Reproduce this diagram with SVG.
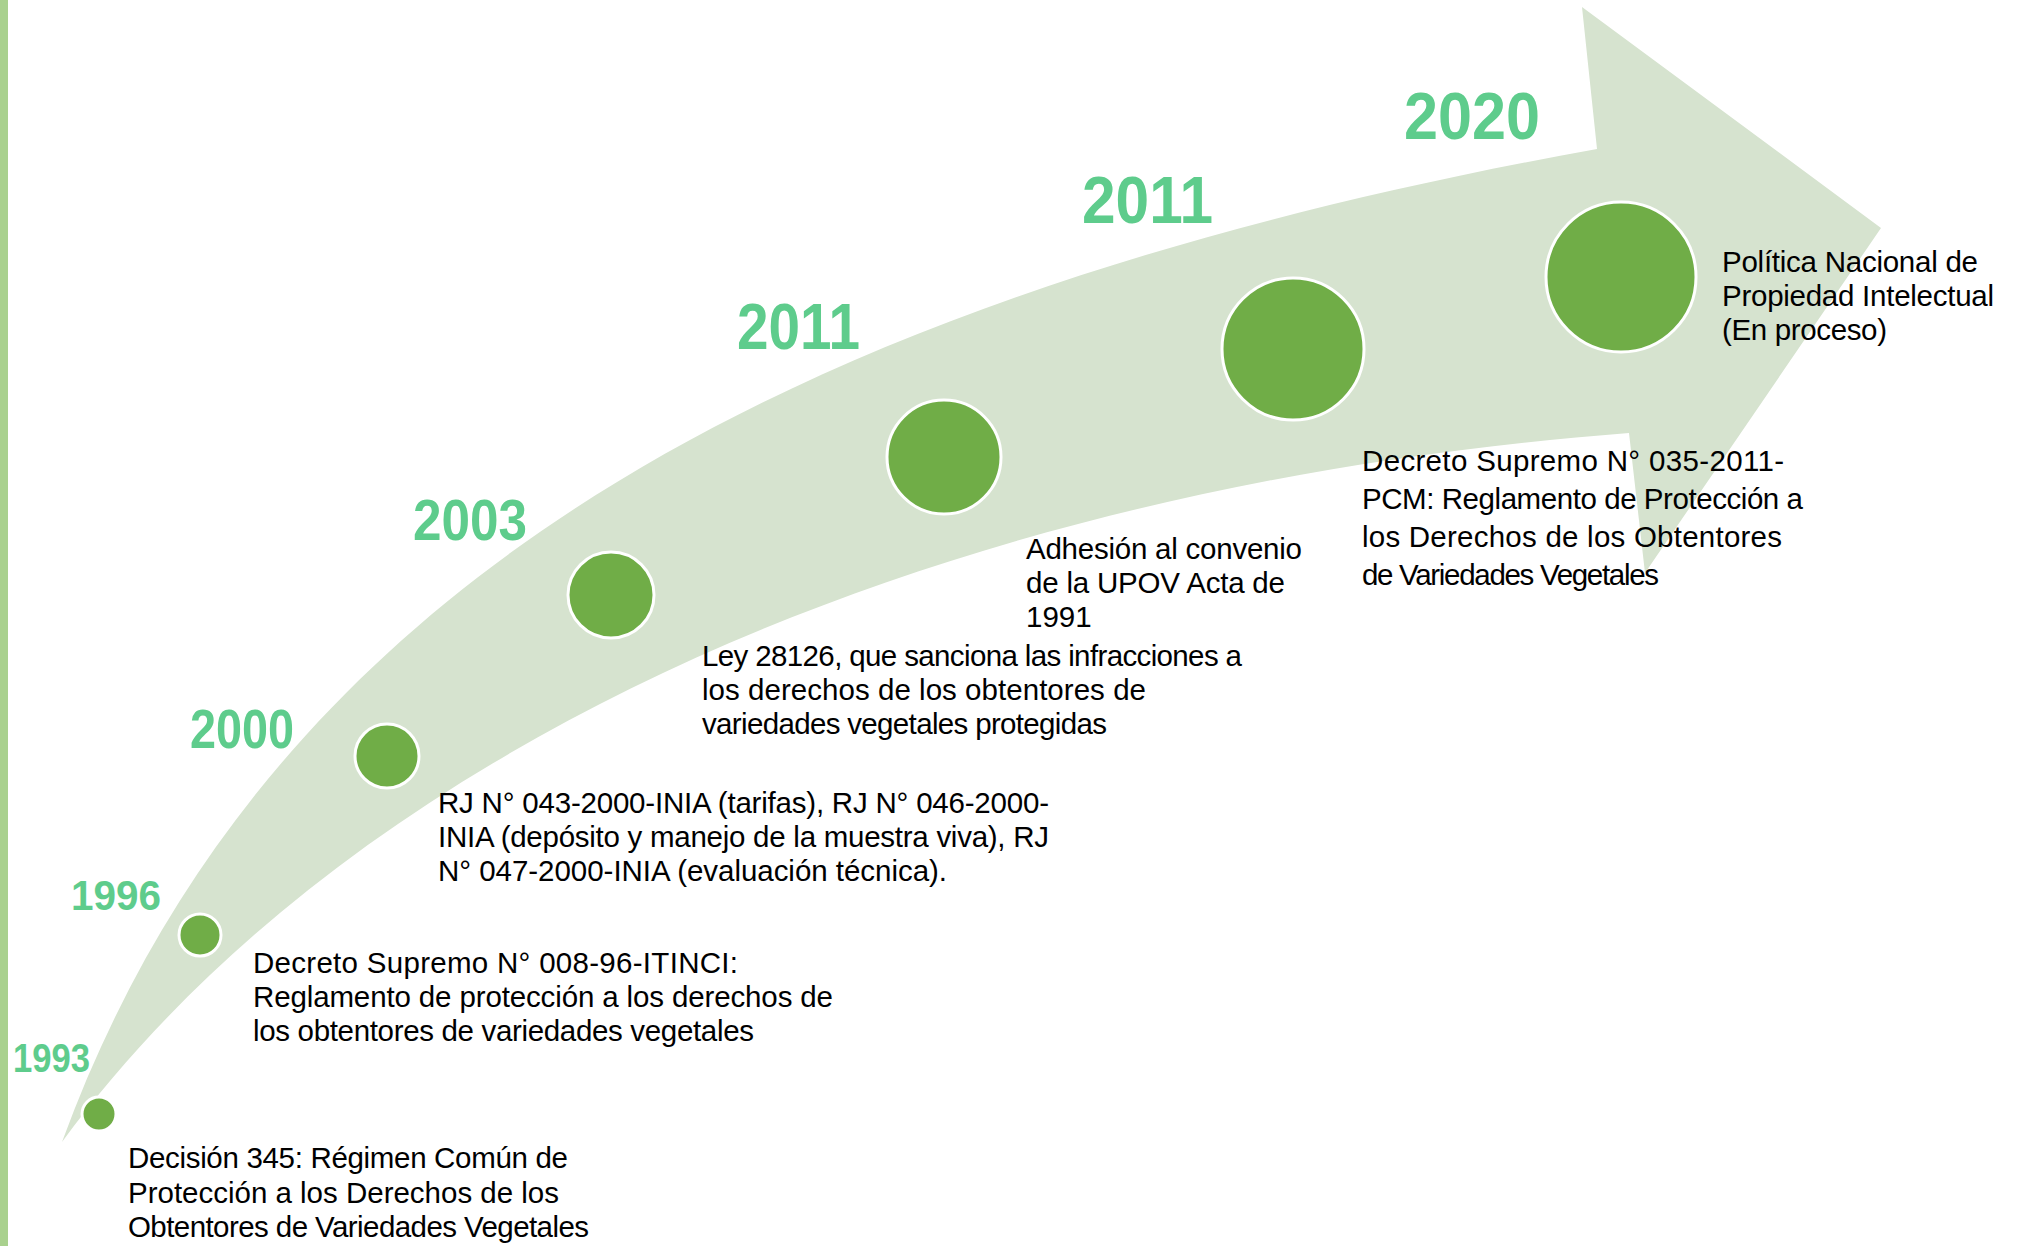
<svg xmlns="http://www.w3.org/2000/svg" width="2024" height="1246" viewBox="0 0 2024 1246">
  <style>
    .year { font-family: "Liberation Sans", Arial, sans-serif; font-weight: bold; fill: #5ECC8C; }
    .desc { font-family: "Liberation Sans", Arial, sans-serif; font-size: 29.5px; fill: #000000; }
    .dot { fill: #70AD47; stroke: #FFFFFF; stroke-width: 3; }
  </style>
  <rect x="0" y="0" width="2024" height="1246" fill="#FFFFFF"/>
  <rect id="side-bar" x="0" y="0" width="8" height="1246" fill="#A9D18E"/>

  <g id="timeline-arrow">
    <path d="M62,1142 C260,600 760,300 1597,149 L1582,7 L1881,228 L1645,573 L1629,433 C890,490 335,770 62,1142 Z" fill="#D6E3CF"/>
  </g>

  <g id="node-1993">
    <circle class="dot" cx="99" cy="1114" r="17"/>
    <text class="year" x="13" y="1072" font-size="40" textLength="77" lengthAdjust="spacingAndGlyphs">1993</text>
    <text class="desc" x="128" y="1168" textLength="440">Decisión 345: Régimen Común de</text>
    <text class="desc" x="128" y="1202.5" textLength="431">Protección a los Derechos de los</text>
    <text class="desc" x="128" y="1237" textLength="461">Obtentores de Variedades Vegetales</text>
  </g>

  <g id="node-1996">
    <circle class="dot" cx="200" cy="935" r="21"/>
    <text class="year" x="71" y="910" font-size="43" textLength="90" lengthAdjust="spacingAndGlyphs">1996</text>
    <text class="desc" x="253" y="973" textLength="485">Decreto Supremo N° 008-96-ITINCI:</text>
    <text class="desc" x="253" y="1007" textLength="580">Reglamento de protección a los derechos de</text>
    <text class="desc" x="253" y="1041" textLength="501">los obtentores de variedades vegetales</text>
  </g>

  <g id="node-2000">
    <circle class="dot" cx="387" cy="756" r="32"/>
    <text class="year" x="190" y="748" font-size="56" textLength="104" lengthAdjust="spacingAndGlyphs">2000</text>
    <text class="desc" x="438" y="813" textLength="611">RJ N° 043-2000-INIA (tarifas), RJ N° 046-2000-</text>
    <text class="desc" x="438" y="847" textLength="611">INIA (depósito y manejo de la muestra viva), RJ</text>
    <text class="desc" x="438" y="881" textLength="509">N° 047-2000-INIA (evaluación técnica).</text>
  </g>

  <g id="node-2003">
    <circle class="dot" cx="611" cy="595" r="43"/>
    <text class="year" x="413" y="540" font-size="58" textLength="114" lengthAdjust="spacingAndGlyphs">2003</text>
    <text class="desc" x="702" y="666" textLength="540">Ley 28126, que sanciona las infracciones a</text>
    <text class="desc" x="702" y="700" textLength="444">los derechos de los obtentores de</text>
    <text class="desc" x="702" y="734" textLength="405">variedades vegetales protegidas</text>
  </g>

  <g id="node-2011-upov">
    <circle class="dot" cx="944" cy="457" r="57"/>
    <text class="year" x="737" y="349" font-size="64" textLength="123" lengthAdjust="spacingAndGlyphs">2011</text>
    <text class="desc" x="1026" y="559" textLength="276">Adhesión al convenio</text>
    <text class="desc" x="1026" y="593" textLength="259">de la UPOV Acta de</text>
    <text class="desc" x="1026" y="627">1991</text>
  </g>

  <g id="node-2011-ds">
    <circle class="dot" cx="1293" cy="349" r="71"/>
    <text class="year" x="1082" y="223" font-size="67" textLength="131" lengthAdjust="spacingAndGlyphs">2011</text>
    <text class="desc" x="1362" y="471" textLength="422">Decreto Supremo N° 035-2011-</text>
    <text class="desc" x="1362" y="509" textLength="441">PCM: Reglamento de Protección a</text>
    <text class="desc" x="1362" y="547" textLength="420">los Derechos de los Obtentores</text>
    <text class="desc" x="1362" y="585" textLength="297">de Variedades Vegetales</text>
  </g>

  <g id="node-2020">
    <circle class="dot" cx="1621" cy="277" r="75"/>
    <text class="year" x="1404" y="139" font-size="67" textLength="136" lengthAdjust="spacingAndGlyphs">2020</text>
    <text class="desc" x="1722" y="272" textLength="256">Política Nacional de</text>
    <text class="desc" x="1722" y="306" textLength="272">Propiedad Intelectual</text>
    <text class="desc" x="1722" y="340" textLength="165">(En proceso)</text>
  </g>
</svg>
